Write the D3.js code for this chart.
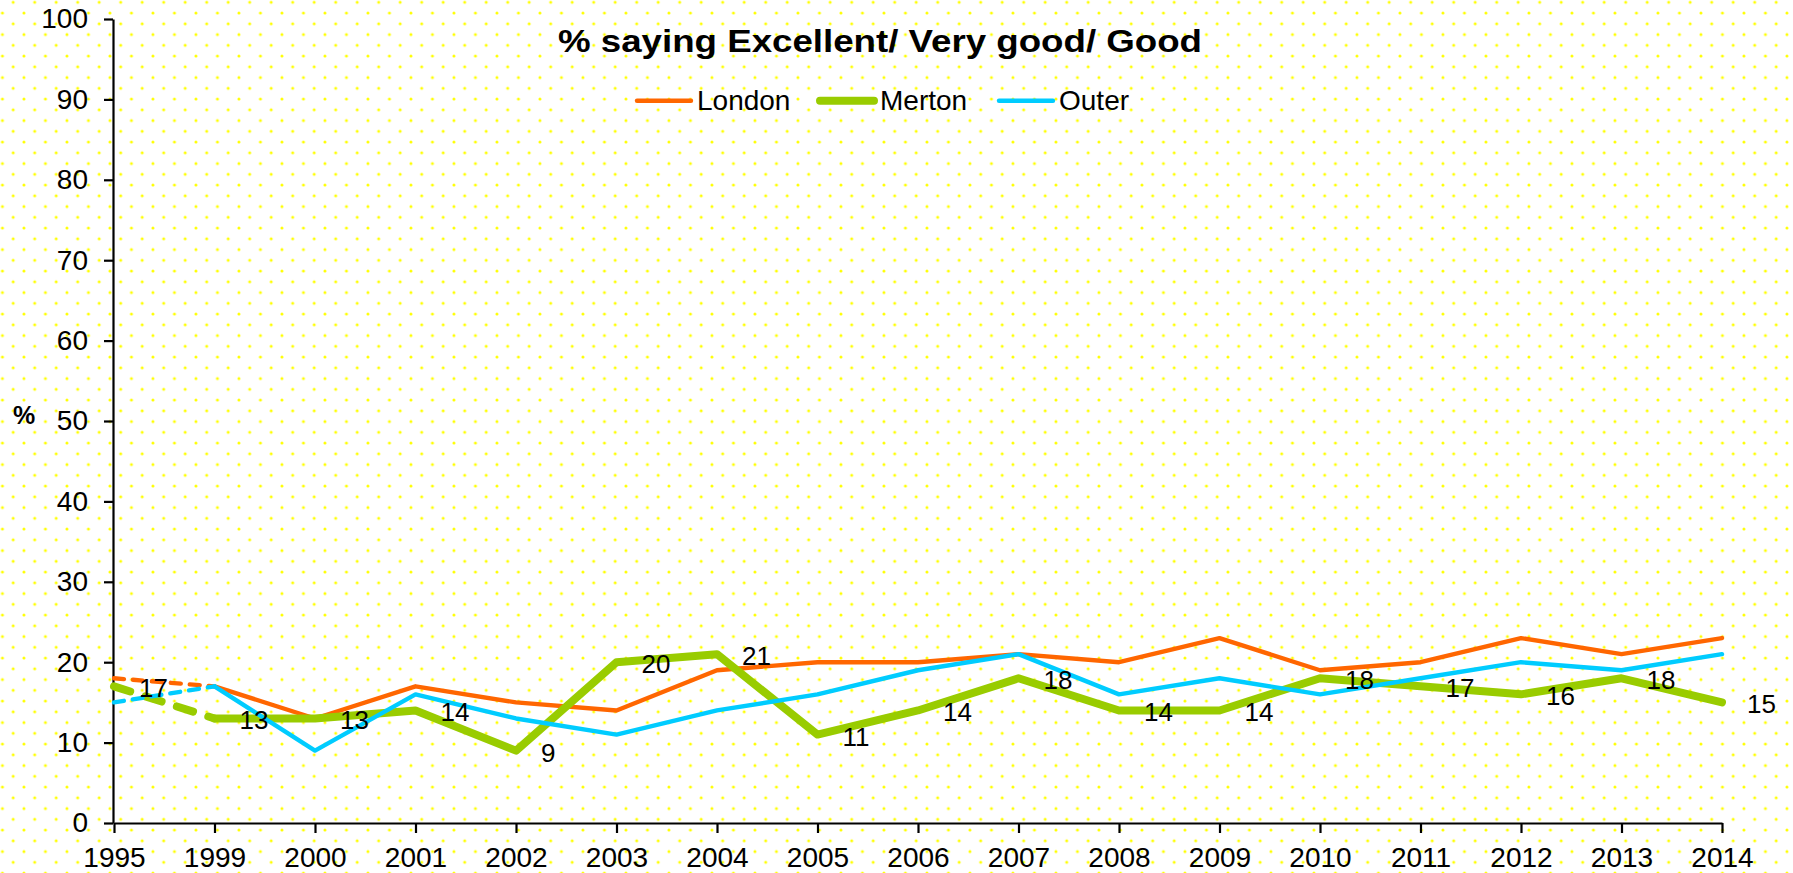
<!DOCTYPE html>
<html>
<head>
<meta charset="utf-8">
<script src="https://cdn.jsdelivr.net/npm/d3@7"></script>
<style>
  html, body { margin: 0; padding: 0; background: #ffffff; }
  svg { display: block; font-family: "Liberation Sans", Arial, sans-serif; }
</style>
</head>
<body>
<svg id="chart" width="1793" height="873"></svg>
<script>
const years = ["1995","1999","2000","2001","2002","2003","2004","2005","2006","2007","2008","2009","2010","2011","2012","2013","2014"];
const london = [18,17,13,17,15,14,19,20,20,21,20,23,19,20,23,21,23];
const merton = [17,13,13,14,9,20,21,11,14,18,14,14,18,17,16,18,15];
const outer  = [15,17,9,16,13,11,14,16,19,21,16,18,16,18,20,19,21];
const yTicks = [0,10,20,30,40,50,60,70,80,90,100];
const seriesNames = ["London","Merton","Outer"];
const seriesColors = ["#ff6600","#99cc00","#00ccff"];
const titleText = "% saying Excellent/ Very good/ Good";
const yAxisLabel = "%";

const svg = d3.select("#chart");
const W = 1793, H = 873;
const FONT = "'Liberation Sans', Arial, sans-serif";

// dotted background
const defs = svg.append("defs");
const pat = defs.append("pattern").attr("id","dots").attr("patternUnits","userSpaceOnUse")
  .attr("width",21.5).attr("height",21.5).attr("x",13.2).attr("y",2.3);
[[0,0],[21.5,0],[0,21.5],[21.5,21.5],[10.75,10.75]].forEach(([cx,cy]) =>
  pat.append("circle").attr("cx",cx).attr("cy",cy).attr("r",1.5).attr("fill","#ffff00"));
svg.append("rect").attr("width",W).attr("height",H).attr("fill","#ffffff");
svg.append("rect").attr("width",W).attr("height",H).attr("fill","url(#dots)");

const x = d3.scalePoint().domain(years).range([114, 1722]).padding(0);
const y = d3.scaleLinear().domain([0,100]).range([823, 19]);

// axes
const yAxis = svg.append("g").attr("transform","translate(113,0)")
  .call(d3.axisLeft(y).tickValues(yTicks).tickSize(9).tickSizeOuter(0).tickPadding(16));
yAxis.select(".domain").attr("stroke","#000").attr("stroke-width",2.2);
yAxis.selectAll(".tick line").attr("stroke","#000").attr("stroke-width",2.2);
yAxis.selectAll(".tick text").attr("font-size",28).attr("fill","#000").attr("font-family",FONT);

const xAxis = svg.append("g").attr("transform","translate(0,823)")
  .call(d3.axisBottom(x).tickSize(10).tickSizeOuter(0).tickPadding(14));
xAxis.select(".domain").attr("stroke","#000").attr("stroke-width",2.2);
xAxis.selectAll(".tick line").attr("stroke","#000").attr("stroke-width",2.2);
xAxis.selectAll(".tick text").attr("font-size",28).attr("fill","#000").attr("font-family",FONT);

// y label
svg.append("text").attr("x",13).attr("y",424).attr("font-size",25).attr("font-weight","bold")
  .attr("fill","#000").text(yAxisLabel);

// lines
const allSeries = [london, merton, outer];
const widths = [4.4, 8, 4.4];
const dashes = ["10,9", "17,16", "10,9"];
allSeries.forEach((vals, s) => {
  const g = svg.append("g");
  const ln = d3.line().x(d=>x(years[d.i])).y(d=>y(d.v));
  // dashed 1995-1999 segment
  g.append("path").datum(vals.slice(0,2).map((v,i)=>({v, i})))
    .attr("d", ln)
    .attr("fill","none").attr("stroke",seriesColors[s]).attr("stroke-width",widths[s])
    .attr("stroke-dasharray",dashes[s]).attr("stroke-linecap","round");
  // solid 1999-2014
  g.append("path").datum(vals.slice(1).map((v,i)=>({v, i:i+1})))
    .attr("d", ln)
    .attr("fill","none").attr("stroke",seriesColors[s]).attr("stroke-width",widths[s])
    .attr("stroke-linejoin","round").attr("stroke-linecap","round");
});

// Merton data labels
svg.append("g").selectAll("text").data(merton).join("text")
  .attr("x",(d,i)=>x(years[i]) + 25)
  .attr("y",d=>y(d) + 11)
  .attr("font-size",26).attr("fill","#000")
  .text(d=>d);

// title
svg.append("text").attr("x",880).attr("y",52).attr("text-anchor","middle")
  .attr("font-size",32).attr("font-weight","bold").attr("fill","#000")
  .attr("textLength",644).attr("lengthAdjust","spacingAndGlyphs")
  .text(titleText);

// legend
const legend = svg.append("g");
const legendX = [637, 820, 999];
seriesNames.forEach((name, i) => {
  const gx = legendX[i];
  legend.append("line").attr("x1",gx).attr("x2",gx+54).attr("y1",100.7).attr("y2",100.7)
    .attr("stroke",seriesColors[i]).attr("stroke-width",widths[i]).attr("stroke-linecap","round");
  legend.append("text").attr("x",gx+60).attr("y",110).attr("font-size",28).attr("fill","#000")
    .text(name);
});
</script>
</body>
</html>
